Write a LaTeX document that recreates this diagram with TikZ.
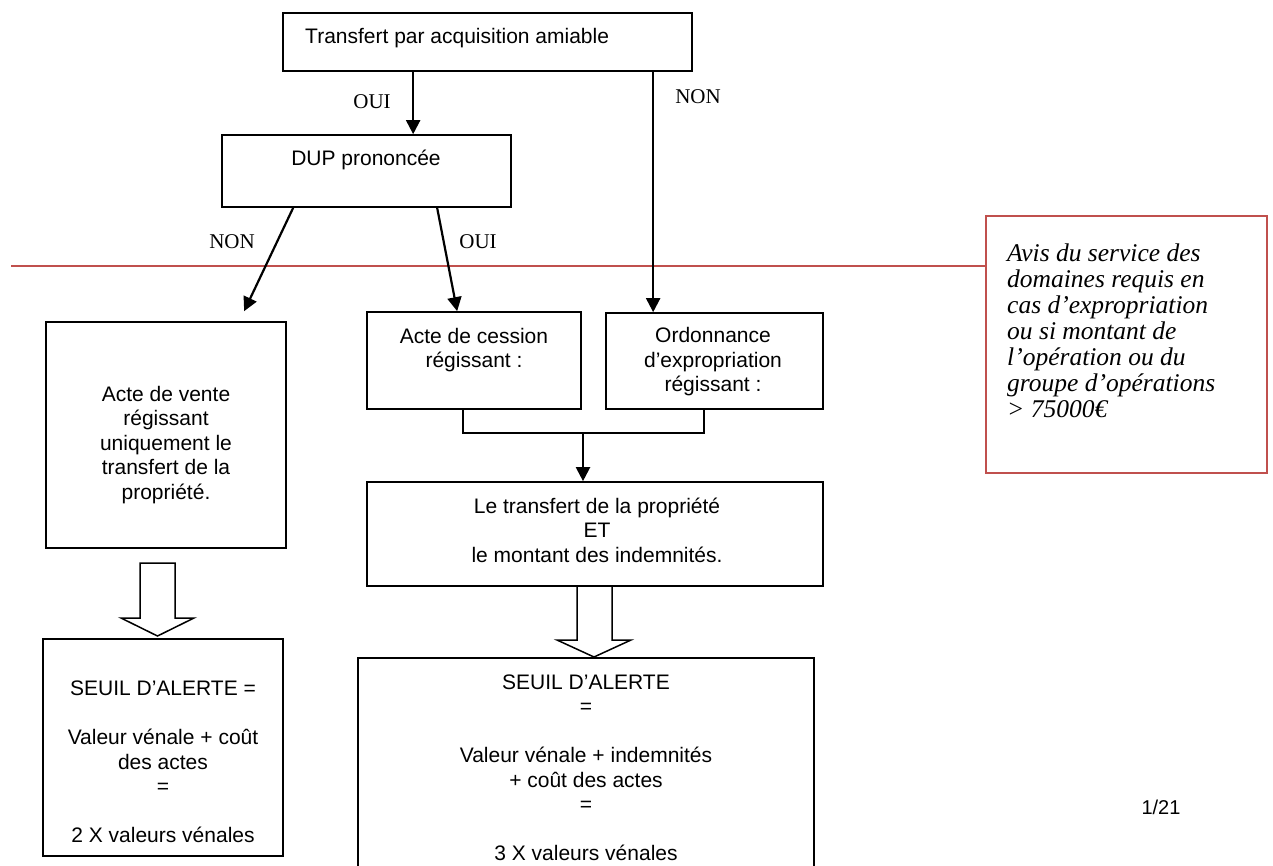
\documentclass[tikz,border=0pt]{standalone}
\usepackage{fontspec}
\setmainfont{Liberation Serif}
\newfontfamily\arialf{Liberation Sans}
\usetikzlibrary{arrows.meta}
\definecolor{calloutred}{RGB}{192,80,77}
\begin{document}
\begin{tikzpicture}[x=1pt,y=-1pt,
 box/.style={draw, line width=1.7pt, rectangle, inner sep=0pt},
 redbox/.style={draw=calloutred, line width=1.6pt, rectangle, inner sep=0pt},
 txt/.style={font=\arialf\fontsize{21}{24.5}\selectfont, align=center, inner sep=0pt},
 lbl/.style={font=\fontsize{21}{24}\selectfont, inner sep=0pt},
 note/.style={font=\itshape\fontsize{25.5}{26}\selectfont, align=left, inner sep=0pt},
 arr/.style={line width=2.2pt, -{Triangle[length=14pt,width=14pt]}},
 link/.style={line width=1.7pt},
 hollow/.style={draw, line width=1.5pt, fill=white, line join=miter},
 redline/.style={draw=calloutred, line width=1.6pt}]
\useasboundingbox (0,0) rectangle (1273,865);
\clip (0,0) rectangle (1273,865);
\fill[white] (0,0) rectangle (1273,865);

% ---- boxes
\node[box, minimum width=409pt, minimum height=58pt] (top) at (487.5,42) {};
\node[txt, anchor=west] (topT) at (305,38) {Transfert par acquisition amiable};

\node[box, minimum width=289pt, minimum height=72pt] (dup) at (366.5,171) {};
\node[txt] (dupT) at (366,160) {DUP prononcée};

\node[box, minimum width=240pt, minimum height=226pt] (vente) at (166,435) {};
\node[txt] (venteT) at (166,445) {Acte de vente\\régissant\\uniquement le\\transfert de la\\propriété.};

\node[box, minimum width=214pt, minimum height=97pt] (cess) at (474,360.5) {};
\node[txt] (cessT) at (474,350) {Acte de cession\\régissant :};

\node[box, minimum width=217pt, minimum height=96pt] (ord) at (714.5,361) {};
\node[txt] (ordT) at (713,362) {Ordonnance\\d’expropriation\\régissant :};

\node[box, minimum width=456pt, minimum height=104pt] (transf) at (595,534) {};
\node[txt] (transfT) at (597,530) {Le transfert de la propriété\\ET\\le montant des indemnités.};

\node[box, minimum width=240pt, minimum height=217pt] (seuilA) at (163,747.5) {};
\node[txt] (seuilAT) at (163,762) {SEUIL D’ALERTE =\\[24.5pt]Valeur vénale + coût\\des actes\\=\\[24.5pt]2 X valeurs vénales};

\node[box, minimum width=456pt, minimum height=222pt] (seuilB) at (586,769) {};
\node[txt] (seuilBT) at (586,768) {SEUIL D’ALERTE\\=\\[24.5pt]Valeur vénale + indemnités\\+ coût des actes\\=\\[24.5pt]3 X valeurs vénales};

\node[redbox, minimum width=281pt, minimum height=257pt] (note) at (1126.5,344.5) {};
\node[note, anchor=north west] (noteT) at (1007,244) {Avis du service des\\domaines requis en\\cas d’expropriation\\ou si montant de\\l’opération ou du\\groupe d’opérations\\> 75000€};

\node[font=\arialf\fontsize{20}{24}\selectfont, inner sep=0pt] (page) at (1161,807) {1/21};

% ---- labels
\node[lbl] (oui1) at (372,102) {OUI};
\node[lbl] (non1) at (698,97) {NON};
\node[lbl] (non2) at (232,242) {NON};
\node[lbl] (oui2) at (478,242) {OUI};

% ---- red line to callout
\coordinate (rl) at (11,266);
\draw[redline] (rl) -- (rl -| note.west);

% ---- arrows
\draw[arr] ([xshift=131pt]top.south west) -- ([xshift=131pt]top.south west |- dup.north);
\draw[arr] ([xshift=371pt]top.south west) -- ([xshift=371pt]top.south west |- ord.north);
\draw[arr] ([xshift=72pt]dup.south west) -- ([xshift=199pt,yshift=10pt]vente.north west);
\draw[arr] ([xshift=216pt]dup.south west) -- ([xshift=91pt]cess.north west);

% ---- merge connector
\coordinate (mL) at (463,433);
\coordinate (mR) at (704,433);
\coordinate (mM) at (583,433);
\draw[link] (cess.south -| mL) -- (mL) -- (mR) -- (ord.south -| mR);
\draw[arr] (mM) -- (mM |- transf.north);

% ---- hollow arrows
\draw[hollow] (140,563) -- (140,618) -- (121,618) -- (157.5,636) -- (194,618) -- (175,618) -- (175,563) -- cycle;
\draw[hollow] (577,586) -- (577,640) -- (557,640) -- (594,657) -- (631,640) -- (612,640) -- (612,586) -- cycle;
\end{tikzpicture}
\end{document}
